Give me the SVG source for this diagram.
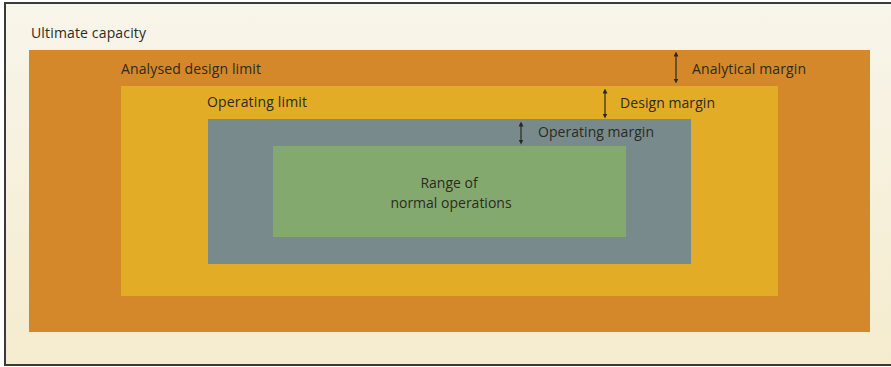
<svg xmlns="http://www.w3.org/2000/svg" width="891" height="367" viewBox="0 0 891 367">
<defs>
<linearGradient id="bg" x1="0" y1="0" x2="0" y2="1">
<stop offset="0" stop-color="#f8f5ea"/>
<stop offset="1" stop-color="#f5ecce"/>
</linearGradient>
<marker id="ah" viewBox="0 0 6 6" refX="3" refY="3" markerWidth="5" markerHeight="5" orient="auto-start-reverse" markerUnits="userSpaceOnUse">
<path d="M0,0 L6,3 L0,6 z" fill="#2a2a22"/>
</marker>
<style>
text{font-family:"Open Sans","Liberation Sans",sans-serif;font-size:14px;fill:#2b2b1e}
.arr{stroke:#2a2a22;stroke-width:1.2;fill:none;marker-start:url(#ah);marker-end:url(#ah)}
</style>
</defs>
<rect x="0" y="0" width="891" height="367" fill="#ffffff"/>
<rect x="5" y="3" width="900" height="362" fill="url(#bg)" stroke="#3a3a3a" stroke-width="2"/>
<g id="ultimate-capacity">
<rect x="29" y="50" width="841" height="282" fill="#d4882a"/>
<text x="31" y="38" textLength="115">Ultimate capacity</text>
</g>
<g id="analysed-design-limit">
<rect x="121" y="86" width="657" height="210" fill="#e3ac27"/>
<text x="121" y="74" textLength="140">Analysed design limit</text>
</g>
<g id="operating-limit">
<rect x="208" y="119" width="483" height="145" fill="#788a8c"/>
<text x="207" y="107" textLength="100">Operating limit</text>
</g>
<g id="normal-operations">
<rect x="273" y="146" width="353" height="91" fill="#84a96e"/>
<text x="449" y="188" text-anchor="middle">Range of</text>
<text x="451" y="208" text-anchor="middle">normal operations</text>
</g>
<g id="connectors">
<line class="arr" x1="676" y1="54" x2="676" y2="81"/>
<line class="arr" x1="605" y1="91" x2="605" y2="116"/>
<line class="arr" x1="521" y1="124" x2="521" y2="142"/>
</g>
<g id="margin-labels">
<text x="692" y="74" textLength="114">Analytical margin</text>
<text x="620" y="108" textLength="95">Design margin</text>
<text x="538" y="137" textLength="116">Operating margin</text>
</g>
</svg>
